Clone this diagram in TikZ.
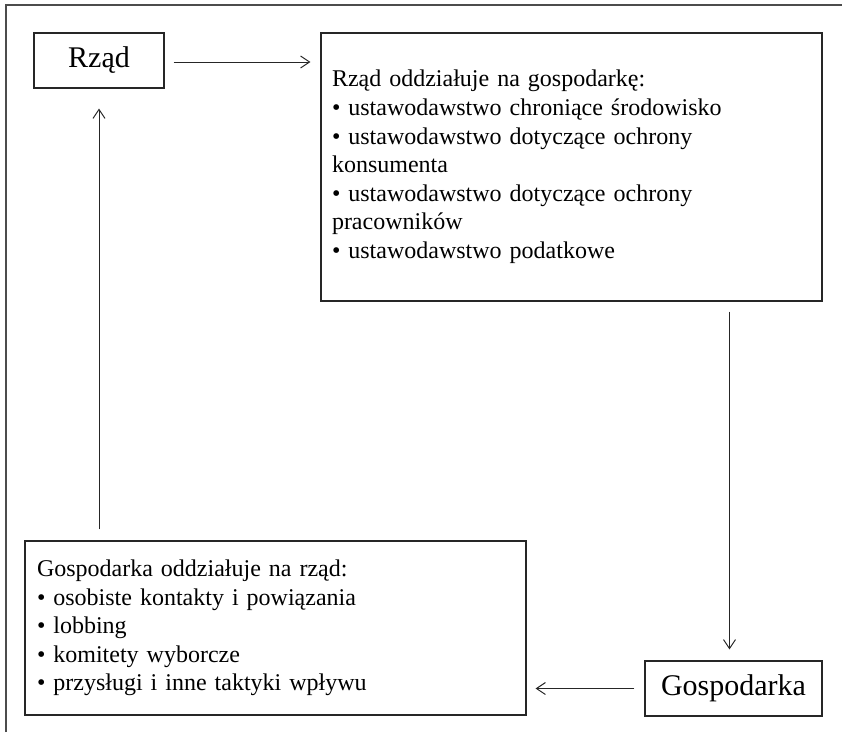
\documentclass[tikz,border=0pt]{standalone}
\usepackage{fontspec}
\setmainfont{Liberation Serif}
\usetikzlibrary{arrows.meta}
\begin{document}
\begin{tikzpicture}[x=1pt,y=-1pt,
  box/.style={draw=black!85, line width=1.1pt, rectangle, inner sep=0pt},
  bigtxt/.style={font=\fontsize{30}{34}\selectfont},
  listbox/.style={box, align=left, text width=#1,
    font=\fontsize{24}{28.6}\selectfont},
  arr/.style={draw=black!85, line width=1pt, -{Straight Barb[length=9pt,width=12pt]}},
  frame/.style={draw=black!70, line width=1.2pt}]
\useasboundingbox (0,0) rectangle (842,732);
\draw[frame] (6,732) -- (6,5) -- (842,5);

\node[box, bigtxt, minimum width=130pt, minimum height=55pt] (rzad) at (99,60.5) {Rząd};
\node[box, bigtxt, minimum width=177pt, minimum height=55pt] (gosp) at (733.5,688.5) {Gospodarka};
\node[listbox=479pt, minimum width=501pt, minimum height=268pt, inner xsep=11pt] (info) at (571.5,167) {%
Rząd oddziałuje na gospodarkę:\\
• ustawodawstwo chroniące środowisko\\
• ustawodawstwo dotyczące ochrony\\
konsumenta\\
• ustawodawstwo dotyczące ochrony\\
pracowników\\
• ustawodawstwo podatkowe};
\node[listbox=477pt, minimum width=501pt, minimum height=174pt, inner xsep=12pt] (wplyw) at (275.5,628) {%
Gospodarka oddziałuje na rząd:\\
• osobiste kontakty i powiązania\\
• lobbing\\
• komitety wyborcze\\
• przysługi i inne taktyki wpływu};

\draw[arr, shorten <=9pt, shorten >=10pt] (rzad.east |- 0,62) -- (info.west |- 0,62);
\draw[arr, shorten <=10pt, shorten >=11pt] ([xshift=-4pt]gosp.north |- info.south) -- ([xshift=-4pt]gosp.north);
\draw[arr, shorten <=10pt, shorten >=9pt] (gosp.west) -- (wplyw.east |- gosp.west);
\draw[arr, shorten <=11pt, shorten >=20pt] (wplyw.north -| rzad.south) -- (rzad.south);
\end{tikzpicture}
\end{document}
